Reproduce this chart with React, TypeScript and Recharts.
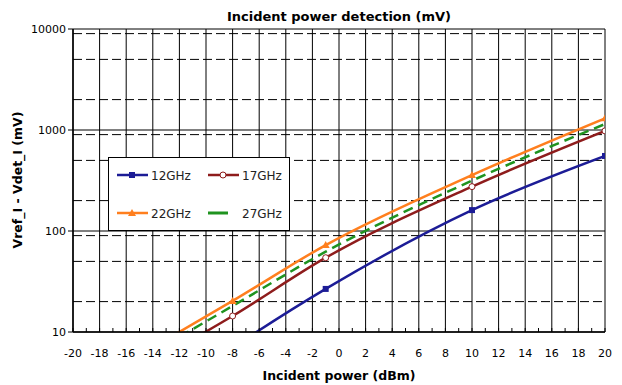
import React from "react";
import {
  LineChart,
  Line,
  XAxis,
  YAxis,
  CartesianGrid,
} from "recharts";

// incident power points (dBm) where the curves were sampled
const powerDbm = [-13, -8, -1, 10, 20];

// Vref_I - Vdet_I (mV) per frequency
const v12GHz = [2.5, 7.0, 26.7, 161, 553];
const v17GHz = [6.0, 14.4, 54.4, 275, 980];
const v22GHz = [8.4, 20.3, 72.6, 358, 1306];
const v27GHz = [7.5, 18.1, 62.4, 315, 1146];

const xTicks = [
  -20, -19, -18, -17, -16, -15, -14, -13, -12, -11, -10, -9, -8, -7, -6, -5, -4,
  -3, -2, -1, 0, 1, 2, 3, 4, 5, 6, 7, 8, 9, 10, 11, 12, 13, 14, 15, 16, 17, 18,
  19, 20,
];
const xGrid = [-20, -18, -16, -14, -12, -10, -8, -6, -4, -2, 0, 2, 4, 6, 8, 10, 12, 14, 16, 18, 20];
const yTicks = [10, 100, 1000, 10000];
const yMinor = [
  20, 30, 40, 50, 60, 70, 80, 90, 200, 300, 400, 500, 600, 700, 800, 900, 2000,
  3000, 4000, 5000, 6000, 7000, 8000, 9000,
];

const data = powerDbm.map((p, i) => ({
  p,
  g12: v12GHz[i],
  g17: v17GHz[i],
  g22: v22GHz[i],
  g27: v27GHz[i],
}));

const FONT = "'DejaVu Sans', Arial, sans-serif";
const BLUE = "#1c1c96";
const RED = "#8e1c1c";
const ORANGE = "#ff7f1e";
const GREEN = "#1f931f";

const Square = (props: any) => {
  const { cx, cy, key } = props;
  if (cx == null || cy == null) return <g key={key} />;
  return <rect key={key} x={cx - 3} y={cy - 3} width={6} height={6} fill={BLUE} />;
};

const Circle = (props: any) => {
  const { cx, cy, key } = props;
  if (cx == null || cy == null) return <g key={key} />;
  return <circle key={key} cx={cx} cy={cy} r={3} fill="#fff" stroke={RED} strokeWidth={1} />;
};

const Triangle = (props: any) => {
  const { cx, cy, key } = props;
  if (cx == null || cy == null) return <g key={key} />;
  return (
    <path key={key} d={`M${cx},${cy - 4} L${cx + 4},${cy + 3} L${cx - 4},${cy + 3} Z`} fill={ORANGE} />
  );
};

const XTick = (props: any) => {
  const { x, y, payload } = props;
  const v = payload.value;
  return (
    <g>
      <line x1={x} y1={y} x2={x} y2={y - 4} stroke="#000" strokeWidth={1} />
      {v % 2 === 0 && (
        <text x={x} y={y + 25} textAnchor="middle" fontSize={11} fontFamily={FONT} fill="#000">
          {v}
        </text>
      )}
    </g>
  );
};

const legendItems = [
  { name: "12GHz", color: BLUE, x: 8, y: 17, mark: "square" },
  { name: "17GHz", color: RED, x: 99, y: 17, mark: "circle" },
  { name: "22GHz", color: ORANGE, x: 8, y: 55, mark: "triangle" },
  { name: "27GHz", color: GREEN, x: 99, y: 55, mark: "dash" },
];

const LegendBox = () => (
  <div
    style={{
      position: "absolute",
      left: 100,
      top: 149,
      width: 182,
      height: 74,
      border: "1px solid #000",
      background: "#fff",
      boxSizing: "border-box",
    }}
  >
    <svg width={180} height={72} style={{ display: "block" }}>
      {legendItems.map((it) => {
        const mid = it.x + 15;
        return (
          <g key={it.name}>
            {it.mark === "dash" ? (
              <line x1={it.x} y1={it.y} x2={it.x + 20} y2={it.y} stroke={it.color} strokeWidth={3} />
            ) : (
              <line x1={it.x} y1={it.y} x2={it.x + 31} y2={it.y} stroke={it.color} strokeWidth={2.5} />
            )}
            {it.mark === "square" && <rect x={mid - 3} y={it.y - 3} width={6} height={6} fill={it.color} />}
            {it.mark === "circle" && (
              <circle cx={mid} cy={it.y} r={3} fill="#fff" stroke={it.color} strokeWidth={1} />
            )}
            {it.mark === "triangle" && (
              <path d={`M${mid},${it.y - 4} L${mid + 4},${it.y + 3} L${mid - 4},${it.y + 3} Z`} fill={it.color} />
            )}
            <text x={it.x + 34} y={it.y + 4.5} fontSize={12} fontFamily={FONT} fill="#222">
              {it.name}
            </text>
          </g>
        );
      })}
    </svg>
  </div>
);

export default function App() {
  return (
    <div style={{ width: 614, height: 377, position: "relative", fontFamily: FONT }}>
      <LineChart
        width={614}
        height={377}
        data={data}
        margin={{ top: 21, right: 17, bottom: 23, left: 10 }}
      >
        <text x={331} y={13} textAnchor="middle" fontSize={13} fontWeight="bold" fontFamily={FONT} fill="#000">
          Incident power detection (mV)
        </text>
        <text x={331} y={372} textAnchor="middle" fontSize={12.5} fontWeight="bold" fontFamily={FONT} fill="#000">
          Incident power (dBm)
        </text>
        <text
          x={14}
          y={172}
          textAnchor="middle"
          fontSize={12.5}
          fontWeight="bold"
          fontFamily={FONT}
          fill="#000"
          transform="rotate(-90 14 172)"
        >
          Vref_I - Vdet_I (mV)
        </text>
        <CartesianGrid
          horizontalValues={yMinor}
          verticalValues={[]}
          vertical={false}
          stroke="#000"
          strokeWidth={1}
          strokeDasharray="9 4"
        />
        <CartesianGrid
          horizontalValues={yTicks}
          verticalValues={xGrid}
          stroke="#000"
          strokeWidth={1}
        />
        <XAxis
          dataKey="p"
          type="number"
          domain={[-20, 20]}
          ticks={xTicks}
          interval={0}
          allowDataOverflow
          height={30}
          tickSize={0}
          tickMargin={0}
          tick={<XTick />}
          axisLine={{ stroke: "#000", strokeWidth: 1.5 }}
          tickLine={false}
        />
        <YAxis
          scale="log"
          domain={[10, 10000]}
          ticks={yTicks}
          allowDataOverflow
          width={55}
          tickSize={5}
          tickMargin={2}
          tick={{ fontSize: 11, fontFamily: FONT, fill: "#000" }}
          axisLine={{ stroke: "#000", strokeWidth: 1.5 }}
          tickLine={{ stroke: "#000" }}
        />
        <Line
          type="monotone"
          dataKey="g12"
          stroke={BLUE}
          strokeWidth={2.5}
          dot={<Square />}
          isAnimationActive={false}
        />
        <Line
          type="monotone"
          dataKey="g17"
          stroke={RED}
          strokeWidth={2.5}
          dot={<Circle />}
          isAnimationActive={false}
        />
        <Line
          type="monotone"
          dataKey="g22"
          stroke={ORANGE}
          strokeWidth={2.5}
          dot={<Triangle />}
          isAnimationActive={false}
        />
        <Line
          type="monotone"
          dataKey="g27"
          stroke={GREEN}
          strokeWidth={2.5}
          strokeDasharray="10 6"
          dot={false}
          isAnimationActive={false}
        />
      </LineChart>
      <LegendBox />
    </div>
  );
}
